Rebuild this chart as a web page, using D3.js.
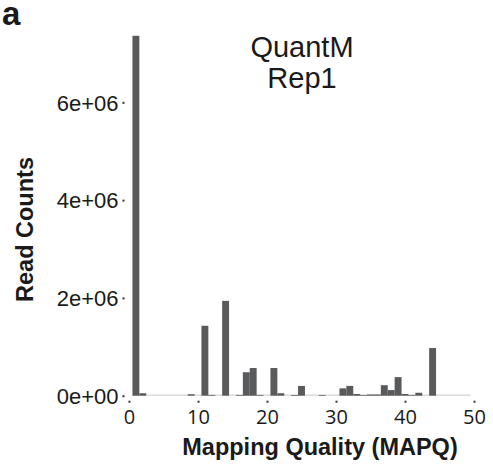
<!DOCTYPE html>
<meta charset="utf-8">
<title>MAPQ histogram</title>
<style>
  body { margin: 0; background: #fff; }
  text { fill: #1a1a1a; }
  .tick-y { font-family: "Liberation Sans", Arial, sans-serif; font-size: 22px; }
  .tick-x { font-family: "Open Sans", sans-serif; font-size: 20px; }
  .axis-title { font-family: "Liberation Sans", Arial, sans-serif; font-size: 23.5px; font-weight: bold; }
</style>
<body>
<script src="https://cdn.jsdelivr.net/npm/d3@7"></script>
<script>

// MAPQ values and read counts per value
var mapq = [1, 2, 3, 4, 5, 6, 7, 8, 9, 10,
            11, 12, 13, 14, 15, 16, 17, 18, 19, 20,
            21, 22, 23, 24, 25, 26, 27, 28, 29, 30,
            31, 32, 33, 34, 35, 36, 37, 38, 39, 40,
            41, 42, 43, 44, 45, 46, 47, 48, 49];
var counts = [7360000, 50000, 0, 0, 0, 0, 0, 0, 30000, 0,
              1430000, 15000, 0, 1940000, 0, 15000, 480000, 566000, 15000, 0,
              566000, 50000, 0, 15000, 200000, 0, 0, 15000, 0, 0,
              150000, 200000, 35000, 15000, 25000, 25000, 215000, 115000, 380000, 35000,
              15000, 60000, 0, 975000, 0, 0, 0, 0, 0];
var xTicks = [0, 10, 20, 30, 40, 50];
var yTicks = [0, 2e6, 4e6, 6e6];
var yTickLabels = ["0e+00", "2e+06", "4e+06", "6e+06"];
var titleLines = ["QuantM", "Rep1"];

var width = 493, height = 466;

var svg = d3.select("body").append("svg")
  .attr("width", width)
  .attr("height", height);

var x = d3.scaleLinear().domain([0, 50]).range([129, 474]);
var y = d3.scaleLinear().domain([0, 8e6]).range([395.7, 4.5]);

// light baseline under the bars
svg.append("line")
  .attr("x1", x(0.5)).attr("x2", x(49.5))
  .attr("y1", y(0) - 0.5).attr("y2", y(0) - 0.5)
  .attr("stroke", "#d4d4d4")
  .attr("stroke-width", 1.2);

// bars
svg.selectAll("rect.bar")
  .data(mapq)
  .enter()
  .append("rect")
  .attr("class", "bar")
  .attr("x", function(d) { return x(d - 0.5); })
  .attr("width", x(1) - x(0))
  .attr("y", function(d, i) { return y(counts[i]); })
  .attr("height", function(d, i) { return y(0) - y(counts[i]); })
  .attr("fill", "#595a5c");

// x axis: small dot ticks, no line
var xAxis = svg.append("g")
  .attr("transform", "translate(0," + (y(0) + 5) + ")")
  .call(d3.axisBottom(x).tickValues(xTicks).tickSize(2).tickPadding(7));
xAxis.select(".domain").remove();
xAxis.selectAll(".tick line").attr("stroke", "#333").attr("stroke-width", 2);
xAxis.selectAll(".tick text")
  .attr("class", "tick-x")
  .attr("fill", "#1a1a1a")
  .style("font-family", "'Open Sans', sans-serif")
  .style("font-size", "20px");

// y axis
var yAxis = svg.append("g")
  .attr("transform", "translate(124.5,0)")
  .call(d3.axisLeft(y).tickValues(yTicks).tickSize(2).tickPadding(4)
    .tickFormat(function(d, i) { return yTickLabels[i]; }));
yAxis.select(".domain").remove();
yAxis.selectAll(".tick line").attr("stroke", "#333").attr("stroke-width", 2);
yAxis.selectAll(".tick text")
  .attr("fill", "#1a1a1a")
  .attr("dy", "0.35em")
  .style("font-family", "'Liberation Sans', Arial, sans-serif")
  .style("font-size", "22px");

// axis titles
svg.append("text")
  .attr("class", "axis-title")
  .attr("x", 320)
  .attr("y", 455)
  .attr("text-anchor", "middle")
  .text("Mapping Quality (MAPQ)");

svg.append("text")
  .attr("class", "axis-title")
  .attr("transform", "translate(33,229.5) rotate(-90)")
  .attr("text-anchor", "middle")
  .text("Read Counts");

// panel title
svg.selectAll("text.title")
  .data(titleLines)
  .enter()
  .append("text")
  .attr("class", "title")
  .attr("x", 302)
  .attr("y", function(d, i) { return 56.7 + i * 31.6; })
  .attr("text-anchor", "middle")
  .style("font-family", "'Liberation Sans', Arial, sans-serif")
  .style("font-size", "29px")
  .text(function(d) { return d; });

// panel letter
svg.append("text")
  .attr("x", 2)
  .attr("y", 25)
  .style("font-family", "'Liberation Sans', Arial, sans-serif")
  .style("font-size", "33px")
  .style("font-weight", "bold")
  .text("a");

</script>
</body>
